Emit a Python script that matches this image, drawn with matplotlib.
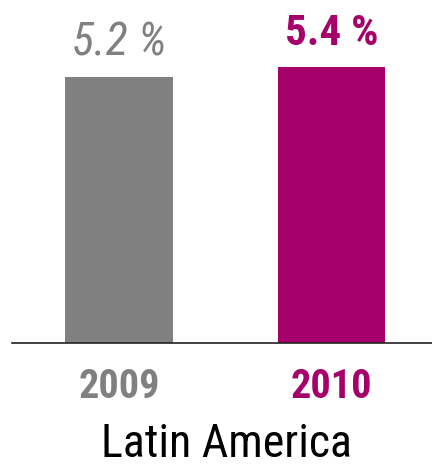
import matplotlib
matplotlib.use('Agg')
import matplotlib.pyplot as plt
from matplotlib import font_manager

# Dane
years = ['2009', '2010']
values = [5.2, 5.4]
value_labels = ['5.2 %', '5.4 %']
region = 'Latin America'

colors = ['#808080', '#A6006B']

# Szukamy czcionki zwężonej (condensed / narrow), inaczej Liberation Sans
family, stretch = 'Liberation Sans', 'normal'
preferred = ['Liberation Sans Narrow', 'Roboto Condensed', 'Open Sans Condensed',
             'DejaVu Sans Condensed', 'Arial Narrow']
fonts = font_manager.fontManager.ttflist
names = {f.name for f in fonts}
found = [p for p in preferred if p in names]
if found:
    family = found[0]
else:
    cond = [f for f in fonts
            if str(f.stretch) in ('condensed', 'semi-condensed', 'extra-condensed')
            and 'Mono' not in f.name and 'Serif' not in f.name]
    if cond:
        family, stretch = cond[0].name, cond[0].stretch

plt.rcParams['font.family'] = [family, 'DejaVu Sans']
plt.rcParams['font.stretch'] = stretch

fig = plt.figure(figsize=(4.32, 4.67), dpi=100)
ax = fig.add_axes([12 / 432, 124 / 467, 420 / 432, 343 / 467])

x = list(range(len(years)))
ax.bar(x, values, width=0.508, color=colors)

ax.set_xlim(-0.5035, 1.473)
ax.set_ylim(0, 6.71)

# Etykiety wartości
ax.text(x[0], values[0] + 0.43, value_labels[0], ha='center', va='baseline',
        fontsize=33, style='italic', color=colors[0])
ax.text(x[1], values[1] + 0.43, value_labels[1], ha='center', va='baseline',
        fontsize=31, fontweight='bold', color=colors[1])

for s in ['top', 'left', 'right']:
    ax.spines[s].set_visible(False)
ax.spines['bottom'].set_linewidth(1.2)
ax.spines['bottom'].set_color('#222222')

ax.set_yticks([])
ax.set_xticks(x)
ax.set_xticklabels(years, fontsize=29, fontweight='bold', va='baseline')
for lbl, c in zip(ax.get_xticklabels(), colors):
    lbl.set_color(c)
ax.tick_params(axis='x', length=0, pad=39.5)

fig.text(226 / 432, 0.002, region, ha='center', va='bottom', fontsize=33, color='black')

plt.savefig('out.png', dpi=100)
plt.close()
